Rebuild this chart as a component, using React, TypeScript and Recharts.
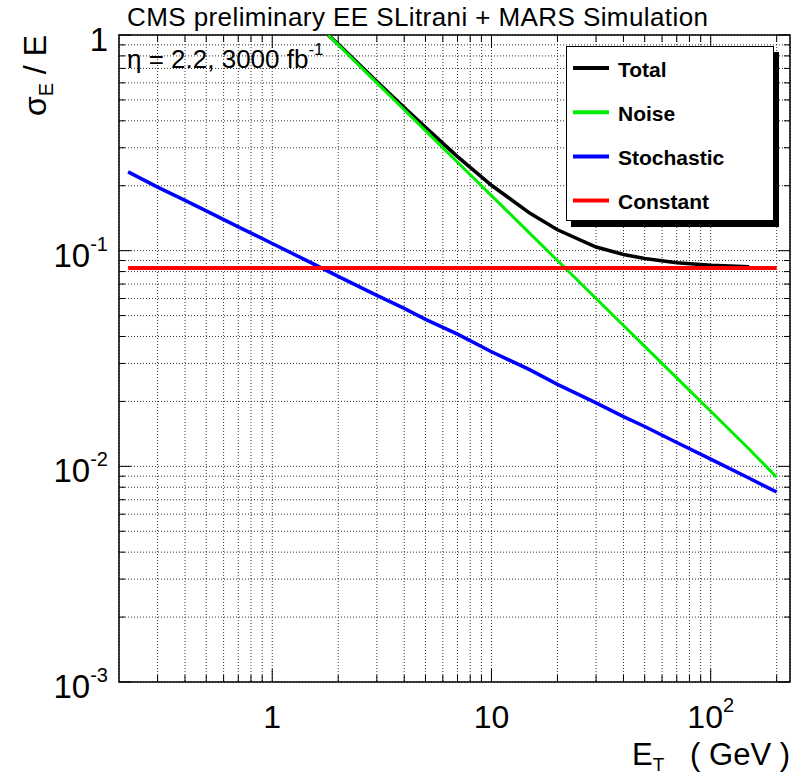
import React from "react";
import { CartesianGrid, Legend, Line, LineChart, ReferenceArea, XAxis, YAxis } from "recharts";

// plot frame (pixels) of the reference
const PLOT_LEFT = 119;
const PLOT_RIGHT = 790;
const PLOT_TOP = 35;
const PLOT_BOTTOM = 682;

const X_DOMAIN = [0.2, 230];
const Y_DOMAIN = [0.001, 1];

const seriesNames = ["Total", "Noise", "Stochastic", "Constant"];

// Total (black)
const totalEt = [1.8, 2, 3, 4, 5, 7, 10, 15, 20, 30, 40, 50, 70, 100, 150];
const totalRes = [1.0, 0.907, 0.609, 0.461, 0.373, 0.273, 0.201, 0.149, 0.125, 0.104, 0.096, 0.092, 0.088, 0.0856, 0.0843];

// Noise (green)
const noiseEt = [1.8, 2, 3, 4, 5, 7, 10, 15, 20, 30, 40, 50, 70, 100, 150, 200];
const noiseRes = [1.0, 0.9, 0.6, 0.45, 0.36, 0.257, 0.18, 0.12, 0.09, 0.06, 0.045, 0.036, 0.0257, 0.018, 0.012, 0.0089];

// Stochastic (blue)
const stochEt = [0.22, 0.3, 0.4, 0.5, 0.7, 1, 1.5, 2, 3, 4, 5, 7, 10, 15, 20, 30, 40, 50, 70, 100, 150, 200];
const stochRes = [0.232, 0.197, 0.171, 0.153, 0.129, 0.108, 0.088, 0.076, 0.062, 0.054, 0.048, 0.041, 0.034, 0.028, 0.024, 0.0197, 0.017, 0.0153, 0.0129, 0.0108, 0.0088, 0.0076];

// Constant (red)
const constEt = [0.22, 200];
const constRes = [0.083, 0.083];

const xTicks = [0.3, 0.4, 0.5, 0.6, 0.7, 0.8, 0.9, 1, 2, 3, 4, 5, 6, 7, 8, 9, 10, 20, 30, 40, 50, 60, 70, 80, 90, 100, 200];
const yTicks = [
  0.001, 0.002, 0.003, 0.004, 0.005, 0.006, 0.007, 0.008, 0.009,
  0.01, 0.02, 0.03, 0.04, 0.05, 0.06, 0.07, 0.08, 0.09,
  0.1, 0.2, 0.3, 0.4, 0.5, 0.6, 0.7, 0.8, 0.9, 1,
];
// decade labels: [mantissa, exponent]
const xLabels: Record<string, [string, string]> = { "1": ["1", ""], "10": ["10", ""], "100": ["10", "2"] };
const yLabels: Record<string, [string, string]> = {
  "0.001": ["10", "-3"],
  "0.01": ["10", "-2"],
  "0.1": ["10", "-1"],
  "1": ["1", ""],
};

const toPoints = (xs: number[], ys: number[]) => xs.map((x, i) => ({ x, y: ys[i] }));

const FONT = "'Liberation Sans', Arial, Helvetica, sans-serif";

function XTick(props: any) {
  const { x, payload } = props;
  const lab = xLabels[String(payload.value)];
  const len = lab ? 13 : 7;
  return (
    <g>
      <line x1={x} x2={x} y1={PLOT_BOTTOM} y2={PLOT_BOTTOM - len} stroke="#000" />
      <line x1={x} x2={x} y1={PLOT_TOP} y2={PLOT_TOP + len} stroke="#000" />
      {lab && (
        <text x={x} y={728} textAnchor="middle" fontFamily={FONT} fontSize={32} fill="#000">
          {lab[0]}
          {lab[1] && (
            <tspan fontSize={20} dy={-16}>
              {lab[1]}
            </tspan>
          )}
        </text>
      )}
    </g>
  );
}

function YTick(props: any) {
  const { y, payload } = props;
  const lab = yLabels[String(payload.value)];
  const len = lab ? 12 : 6;
  return (
    <g>
      <line x1={PLOT_LEFT} x2={PLOT_LEFT + len} y1={y} y2={y} stroke="#000" />
      <line x1={PLOT_RIGHT} x2={PLOT_RIGHT - len} y1={y} y2={y} stroke="#000" />
      {lab && (
        <text x={108} y={y + 16} textAnchor="end" fontFamily={FONT} fontSize={33} fill="#000">
          {lab[0]}
          {lab[1] && (
            <tspan fontSize={20} dy={-16}>
              {lab[1]}
            </tspan>
          )}
        </text>
      )}
    </g>
  );
}

function LegendBox(props: any) {
  const items = [...(props.payload || [])].sort(
    (a: any, b: any) => seriesNames.indexOf(a.value) - seriesNames.indexOf(b.value)
  );
  return (
    <div
      style={{
        width: 208,
        height: 175,
        border: "1px solid #000",
        background: "#fff",
        boxShadow: "5px 6px 0 0 #000",
        boxSizing: "border-box",
      }}
    >
      <svg width={206} height={173}>
        {items.map((it: any, i: number) => {
          const cy = 21 + i * 44.2;
          return (
            <g key={it.value}>
              <line x1={6} x2={42} y1={cy} y2={cy} stroke={it.color} strokeWidth={4} />
              <text x={51} y={cy + 8.5} fontFamily={FONT} fontWeight="bold" fontSize={21} fill="#000">
                {it.value}
              </text>
            </g>
          );
        })}
      </svg>
    </div>
  );
}

export default function App() {
  return (
    <div style={{ position: "absolute", left: 0, top: 0, background: "#fff" }}>
      <LineChart
        width={807}
        height={778}
        margin={{ top: PLOT_TOP, right: 807 - PLOT_RIGHT, bottom: 36, left: 9 }}
      >
        <CartesianGrid stroke="#333" strokeDasharray="1 2" />
        <XAxis
          dataKey="x"
          type="number"
          scale="log"
          domain={X_DOMAIN}
          allowDataOverflow
          ticks={xTicks}
          interval={0}
          height={60}
          tickSize={0}
          tickMargin={0}
          tickLine={false}
          axisLine={false}
          tick={<XTick />}
        />
        <YAxis
          type="number"
          scale="log"
          domain={Y_DOMAIN}
          allowDataOverflow
          ticks={yTicks}
          interval={0}
          width={110}
          tickSize={0}
          tickMargin={0}
          tickLine={false}
          axisLine={false}
          tick={<YTick />}
        />
        <ReferenceArea
          x1={X_DOMAIN[0]}
          x2={X_DOMAIN[1]}
          y1={Y_DOMAIN[0]}
          y2={Y_DOMAIN[1]}
          fill="none"
          fillOpacity={0}
          stroke="#000"
          strokeWidth={1.5}
          ifOverflow="visible"
        />
        <Line data={toPoints(totalEt, totalRes)} dataKey="y" name={seriesNames[0]} stroke="#000000" strokeWidth={3.5} dot={false} isAnimationActive={false} />
        <Line data={toPoints(noiseEt, noiseRes)} dataKey="y" name={seriesNames[1]} stroke="#00ee00" strokeWidth={3} dot={false} isAnimationActive={false} />
        <Line data={toPoints(stochEt, stochRes)} dataKey="y" name={seriesNames[2]} stroke="#0000ff" strokeWidth={3.5} dot={false} isAnimationActive={false} />
        <Line data={toPoints(constEt, constRes)} dataKey="y" name={seriesNames[3]} stroke="#ff0000" strokeWidth={4} dot={false} isAnimationActive={false} />
        <Legend
          layout="vertical"
          align="center"
          verticalAlign="middle"
          content={<LegendBox />}
          wrapperStyle={{ left: 566, top: 46, width: 208, height: 175 }}
        />
        <text x={127} y={26} fontFamily={FONT} fontSize={26} textLength={581} lengthAdjust="spacing" fill="#000">
          CMS preliminary EE SLitrani + MARS Simulation
        </text>
        <text x={127} y={68} fontFamily={FONT} fontSize={26} fill="#000">
          η = 2.2, 3000 fb
          <tspan fontSize={17} dy={-13}>
            -1
          </tspan>
        </text>
        <text
          x={46}
          y={35}
          textAnchor="end"
          transform="rotate(-90, 46, 35)"
          fontFamily={FONT}
          fontSize={32}
          fill="#000"
        >
          σ
          <tspan fontSize={20} dy={7}>
            E
          </tspan>
          <tspan dy={-7}> / E</tspan>
        </text>
        <text x={790} y={765} textAnchor="end" fontFamily={FONT} fontSize={31} fill="#000" style={{ whiteSpace: "pre" }}>
          E
          <tspan fontSize={19} dy={6}>
            T
          </tspan>
          <tspan dy={-6}>{"   ( GeV )"}</tspan>
        </text>
      </LineChart>
    </div>
  );
}
